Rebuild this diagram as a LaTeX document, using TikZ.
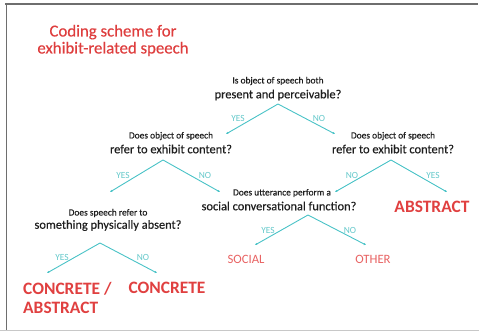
\documentclass[tikz,border=0pt]{standalone}
\usepackage{fontspec}
\setmainfont{Carlito}
\newfontfamily\heavyfont[FakeBold=0.35]{Carlito}
\usetikzlibrary{arrows.meta}
\definecolor{titlered}{RGB}{222,62,62}
\definecolor{leafred}{RGB}{224,64,64}
\definecolor{softred}{RGB}{232,98,98}
\definecolor{teal}{RGB}{72,194,198}
\definecolor{tealtext}{RGB}{100,200,202}
\definecolor{ink}{RGB}{30,30,30}
\definecolor{frameg}{RGB}{110,110,110}
\definecolor{framel}{RGB}{200,200,200}
\tikzset{
  x=1pt, y=-1pt,
  small/.style={inner sep=0pt, text=ink, font=\heavyfont\fontsize{9.4}{11}\selectfont},
  big/.style={inner sep=0pt, text=ink, font=\heavyfont\fontsize{12.4}{14}\selectfont},
  answer/.style={inner sep=0pt, text=tealtext, font=\fontsize{9.4}{11}\selectfont},
  branch/.style={teal, line width=0.9pt, -{Latex[length=2.2pt,width=2.6pt]}},
  leaf/.style={inner sep=0pt, text=leafred, font=\bfseries\fontsize{17.4}{20}\selectfont},
  minor/.style={inner sep=0pt, text=softred, font=\fontsize{12.7}{14}\selectfont},
}
\begin{document}
\begin{tikzpicture}
\useasboundingbox (0,0) rectangle (479,332);
% frame
\draw[framel, line width=1.4pt] (0,330.5) -- (479,330.5);
\draw[frameg, line width=1.6pt] (5,4) -- (478,4);
\draw[frameg, line width=1.6pt] (6.5,4) -- (6.5,330);

% title
\node[inner sep=0pt, text=titlered, font=\heavyfont\fontsize{16.8}{17}\selectfont, align=center]
  (title) at (113,40.5) {Coding scheme for\\exhibit-related speech};

% question 1
\node[small] (q1a) at (278,81) {Is object of speech both};
\node[big] (q1b) at (278,95) {present and perceivable?};
\coordinate (q1) at (278,104);
\coordinate (q1y) at (226,134);
\coordinate (q1n) at (335,134);
\draw[branch] (q1) -- (q1y);
\draw[branch] (q1) -- (q1n);
\node[answer] (y1) at (238,118) {YES};
\node[answer] (n1) at (319,118) {NO};

% question 2, left
\node[small] (q2la) at (171,136) {Does object of speech};
\node[big] (q2lb) at (171,149) {refer to exhibit content?};
\coordinate (q2l) at (163,160);
\coordinate (q2ly) at (110,192);
\coordinate (q2ln) at (220,192);
\draw[branch] (q2l) -- (q2ly);
\draw[branch] (q2l) -- (q2ln);
\node[answer] (y2l) at (123,175) {YES};
\node[answer] (n2l) at (205,175) {NO};

% question 2, right
\node[small] (q2ra) at (393,136) {Does object of speech};
\node[big] (q2rb) at (393,149) {refer to exhibit content?};
\coordinate (q2r) at (391,160);
\coordinate (q2rn) at (335,192);
\coordinate (q2ry) at (447,192);
\draw[branch] (q2r) -- (q2rn);
\draw[branch] (q2r) -- (q2ry);
\node[answer] (n2r) at (352,175) {NO};
\node[answer] (y2r) at (433,175) {YES};
\node[leaf] (abs) at (432,207) {ABSTRACT};

% question 3
\node[small] (q3a) at (282,193) {Does utterance perform a};
\node[big] (q3b) at (279,206) {social conversational function?};
\coordinate (q3) at (308,215);
\coordinate (q3y) at (255,245);
\coordinate (q3n) at (366,245);
\draw[branch] (q3) -- (q3y);
\draw[branch] (q3) -- (q3n);
\node[answer] (y3) at (268,230) {YES};
\node[answer] (n3) at (350,230) {NO};
\node[minor] (social) at (246,259) {SOCIAL};
\node[minor] (other) at (373,259) {OTHER};

% question 4
\node[small] (q4a) at (108,213) {Does speech refer to};
\node[big] (q4b) at (108,225.5) {something physically absent?};
\coordinate (q4) at (100,243);
\coordinate (q4y) at (47,273);
\coordinate (q4n) at (157,273);
\draw[branch] (q4) -- (q4y);
\draw[branch] (q4) -- (q4n);
\node[answer] (y4) at (62,257) {YES};
\node[answer] (n4) at (143,257) {NO};
\node[leaf, align=left, anchor=west, font=\bfseries\fontsize{17.4}{19}\selectfont]
  (cabs) at (23,297.5) {CONCRETE /\\ABSTRACT};
\node[leaf] (conc) at (167,288) {CONCRETE};
\end{tikzpicture}
\end{document}
